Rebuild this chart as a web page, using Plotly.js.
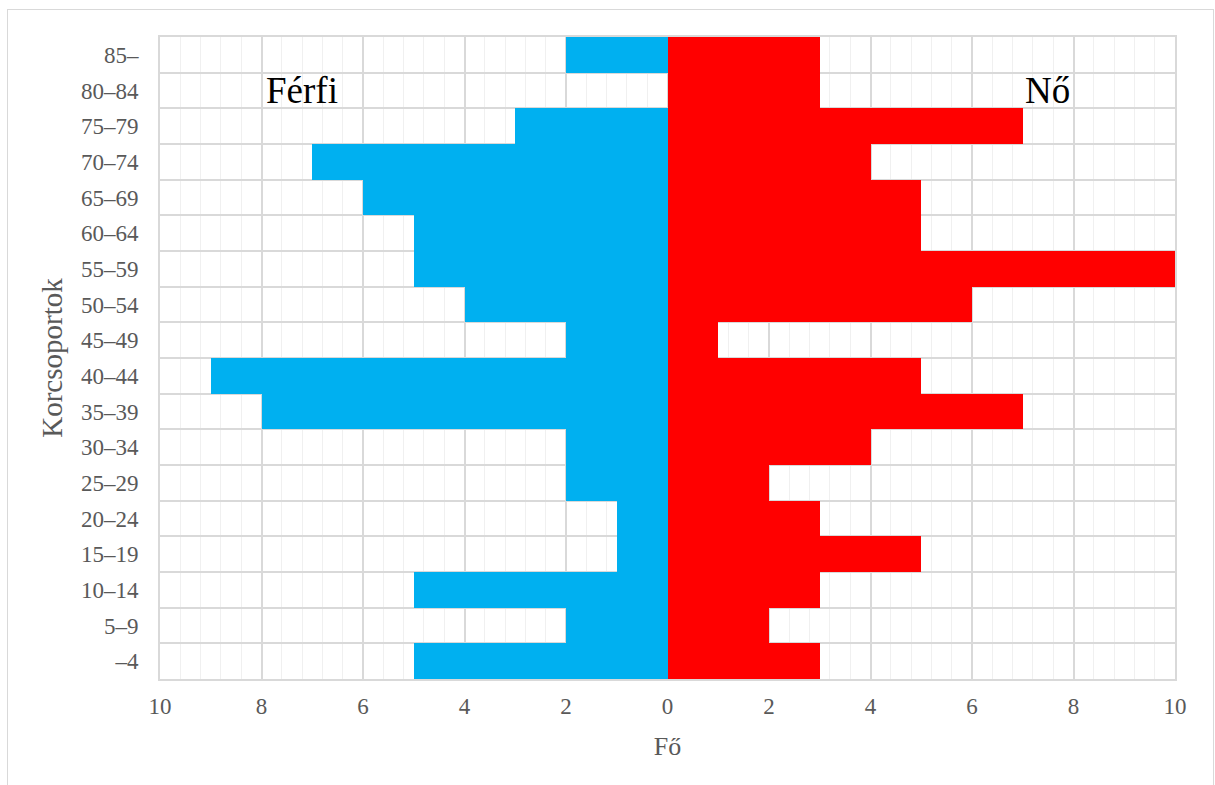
<!DOCTYPE html>
<html>
<head>
<meta charset="utf-8">
<script src="https://cdn.plot.ly/plotly-3.0.1.min.js"></script>
<style>
  html, body { margin: 0; padding: 0; background: #fff; }
  #chart { width: 1215px; height: 785px; position: relative; }
  #frame { position: absolute; left: 7px; top: 9px; width: 1205px; height: 790px; border: 1px solid #d9d9d9; pointer-events: none; }
</style>
</head>
<body>
<div id="chart"></div>
<div id="frame"></div>
<script>
const ageGroups = ['–4','5–9','10–14','15–19','20–24','25–29','30–34','35–39','40–44','45–49','50–54','55–59','60–64','65–69','70–74','75–79','80–84','85–'];
const male   = [5, 2, 5, 1, 1, 2, 2, 8, 9, 2, 4, 5, 5, 6, 7, 3, 0, 2];
const female = [3, 2, 3, 5, 3, 2, 4, 7, 5, 1, 6, 10, 5, 5, 4, 7, 3, 3];
const xTicks = [-10, -8, -6, -4, -2, 0, 2, 4, 6, 8, 10];

const font = 'Liberation Serif';

const traces = [
  {
    type: 'bar', orientation: 'h', name: 'Férfi',
    y: ageGroups, x: male.map(v => -v),
    marker: { color: '#00B0F0', line: { width: 0 } },
    hoverinfo: 'none'
  },
  {
    type: 'bar', orientation: 'h', name: 'Nő',
    y: ageGroups, x: female,
    marker: { color: '#FF0000', line: { width: 0 } },
    hoverinfo: 'none'
  }
];

const layout = {
  width: 1215, height: 785,
  margin: { l: 160, r: 40, t: 37, b: 106 },
  paper_bgcolor: '#ffffff', plot_bgcolor: '#ffffff',
  barmode: 'relative', bargap: 0,
  showlegend: false,
  font: { family: font, color: '#595959', size: 23 },
  xaxis: {
    range: [-10, 10],
    tickvals: xTicks,
    ticktext: xTicks.map(v => String(Math.abs(v))),
    tickfont: { family: font, size: 23, color: '#595959' },
    ticks: '', ticklen: 0,
    ticklabelstandoff: 5,
    showgrid: true, gridcolor: '#d9d9d9', gridwidth: 2,
    minor: { dtick: 0.4, tick0: 0, showgrid: true, gridcolor: '#f0f0f0', gridwidth: 1 },
    zeroline: true, zerolinecolor: '#d9d9d9', zerolinewidth: 2,
    showline: true, linecolor: '#d9d9d9', linewidth: 2, mirror: true,
    title: { text: 'Fő', font: { family: font, size: 26, color: '#595959' }, standoff: 19 },
    fixedrange: true
  },
  yaxis: {
    type: 'category',
    categoryorder: 'array', categoryarray: ageGroups,
    tickson: 'boundaries',
    ticks: '',
    tickfont: { family: font, size: 23, color: '#595959' },
    showgrid: true, gridcolor: '#d9d9d9', gridwidth: 2,
    showline: true, linecolor: '#d9d9d9', linewidth: 2, mirror: true,
    ticklabelstandoff: 15,
    title: { text: 'Korcsoportok', font: { family: font, size: 29, color: '#595959' }, standoff: 10 },
    fixedrange: true
  },
  annotations: [
    { xref: 'x', yref: 'y', x: -7.95, y: '80–84', xanchor: 'left', yanchor: 'middle',
      text: 'Férfi', showarrow: false, font: { family: font, size: 37, color: '#000000' } },
    { xref: 'x', yref: 'y', x: 7.97, y: '80–84', xanchor: 'right', yanchor: 'middle',
      text: 'Nő', showarrow: false, font: { family: font, size: 37, color: '#000000' } }
  ]
};

Plotly.newPlot('chart', traces, layout, { displayModeBar: false, staticPlot: true });
</script>
</body>
</html>
